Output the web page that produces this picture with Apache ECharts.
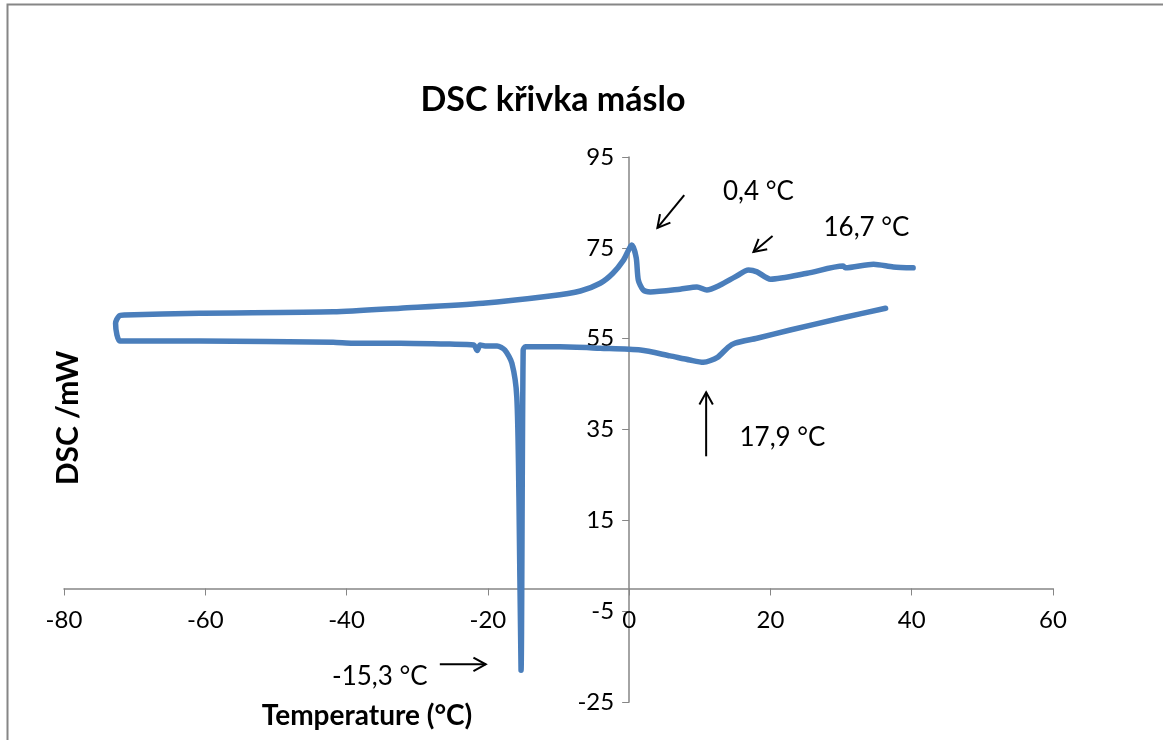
<!DOCTYPE html>
<html>
<head>
<meta charset="utf-8">
<script src="https://cdn.jsdelivr.net/npm/echarts@6/dist/echarts.min.js"></script>
<style>
html,body{margin:0;padding:0;background:#fff;}
#chart{width:1163px;height:740px;}
</style>
</head>
<body>
<div id="chart"></div>
<script>
// Temperature (°C) and DSC (mW) along the measured loop:
// cooling run (right to left), hold at -72 °C, heating run (left to right)
var coolT = [36.3, 29.9, 22.8, 18.1, 15.0, 14.0, 12.5, 10.5, 8.6, 5.8, 1.6, -4.1, -9.8, -14.7, -15.0, -15.3, -15.6, -15.9, -16.6, -17.6, -18.7, -20.4, -21.1, -21.5, -22.0, -25.4, -32.4, -39.1, -41.9, -60.8, -72.1];
var coolDSC = [61.7, 59.5, 56.9, 55.1, 54.0, 53.1, 50.9, 49.8, 50.3, 51.2, 52.5, 52.9, 53.2, 53.2, 52.5, -18.0, 20.1, 42.1, 49.6, 52.5, 53.4, 53.4, 53.6, 52.4, 53.6, 53.8, 54.0, 54.0, 54.2, 54.5, 54.5];
var holdT = [-72.5, -72.7, -72.2, -71.4];
var holdDSC = [55.8, 58.4, 60.0, 60.2];
var heatT = [-60.8, -41.9, -32.4, -20.7, -11.2, -6.9, -4.1, -2.3, -0.8, 0.4, 1.0, 1.3, 2.0, 3.0, 7.2, 9.6, 11.0, 12.9, 15.0, 16.9, 18.1, 20.0, 25.2, 30.3, 30.6, 34.6, 37.4, 40.2];
var heatDSC = [60.6, 60.9, 61.7, 62.8, 64.4, 65.5, 67.2, 69.4, 72.3, 75.6, 72.8, 67.9, 65.7, 65.3, 65.9, 66.4, 65.7, 66.8, 68.6, 70.1, 69.7, 68.1, 69.4, 71.0, 70.6, 71.4, 70.8, 70.6];

var xTicks = {min: -80, max: 60, step: 20};
var yTicks = {min: -25, max: 95, step: 20};

// annotation texts and their anchors in data coordinates
var noteTexts = ['0,4 °C', '16,7 °C', '17,9 °C', '-15,3 °C'];
var notePos = [[18.3, 87.3], [33.6, 79.4], [21.7, 33.3], [-35.3, -19.5]];
// arrows: [tailT, tailDSC, headT, headDSC]
var arrows = [[7.8, 86.6, 4.0, 79.4], [20.3, 77.6, 17.6, 74.1], [10.9, 29.1, 10.9, 43.2], [-26.8, -16.7, -20.3, -16.7]];

var loop = [];
coolT.forEach(function (t, i) { loop.push([t, coolDSC[i]]); });
holdT.forEach(function (t, i) { loop.push([t, holdDSC[i]]); });
heatT.forEach(function (t, i) { loop.push([t, heatDSC[i]]); });

var W = 1163, H = 740;
var G = {left: 64, right: 110, top: 157, bottom: 38};
var gw = W - G.left - G.right, gh = H - G.top - G.bottom;
// axes cross at zero of the other axis (as in the original)
var xOffset = -(0 - yTicks.min) / (yTicks.max - yTicks.min) * gh;
var yOffset = -(0 - xTicks.min) / (xTicks.max - xTicks.min) * gw;

var FONT = 'Lato, "Liberation Sans", sans-serif';
var chart = echarts.init(document.getElementById('chart'));
chart.setOption({
  animation: false,
  backgroundColor: '#fff',
  title: {
    text: 'DSC křivka máslo', left: 548, top: 78, textAlign: 'center',
    textStyle: {fontFamily: FONT, fontWeight: 'bold', fontSize: 34, color: '#000'}
  },
  grid: {left: G.left, right: G.right, top: G.top, bottom: G.bottom, containLabel: false},
  xAxis: {
    type: 'value', min: xTicks.min, max: xTicks.max, interval: xTicks.step,
    position: 'bottom', offset: xOffset,
    axisLine: {onZero: false, lineStyle: {color: '#868686', width: 1.5}},
    axisTick: {show: true, inside: false, length: 7, lineStyle: {color: '#868686'}},
    axisLabel: {margin: 20, color: '#000', fontFamily: FONT, fontSize: 24},
    splitLine: {show: false}
  },
  yAxis: {
    type: 'value', min: yTicks.min, max: yTicks.max, interval: yTicks.step,
    position: 'left', offset: yOffset,
    axisLine: {show: true, onZero: false, lineStyle: {color: '#868686', width: 1.5}},
    axisTick: {show: true, inside: false, length: 7, lineStyle: {color: '#868686'}},
    axisLabel: {margin: 15, color: '#000', fontFamily: FONT, fontSize: 24},
    splitLine: {show: false}
  },
  series: [{
    type: 'line', data: loop, showSymbol: false, smooth: 0.25,
    lineStyle: {color: '#4A7EBB', width: 5.5, cap: 'round', join: 'round'}
  }]
});

function toPx(p) { return chart.convertToPixel({gridIndex: 0}, p); }
var g = [];
g.push({type: 'rect', shape: {x: 7.5, y: 4.5, width: 1300, height: 900}, style: {fill: 'none', stroke: '#868686', lineWidth: 2}, z: 0});
g.push({type: 'text', x: 367, y: 716, style: {text: 'Temperature (°C)', font: 'bold 28px ' + FONT, fill: '#000', align: 'center', verticalAlign: 'middle'}});
g.push({type: 'text', x: 68, y: 418, rotation: Math.PI / 2, style: {text: 'DSC /mW', font: 'bold 30px ' + FONT, fill: '#000', align: 'center', verticalAlign: 'middle'}});
noteTexts.forEach(function (t, i) {
  var p = toPx(notePos[i]);
  g.push({type: 'text', x: p[0], y: p[1], style: {text: t, font: '26px ' + FONT, fill: '#000', align: 'center', verticalAlign: 'middle'}});
});
arrows.forEach(function (a) {
  var t = toPx([a[0], a[1]]), h = toPx([a[2], a[3]]);
  var ang = Math.atan2(h[1] - t[1], h[0] - t[0]);
  var L = 14, w = 0.5;
  var p1 = [h[0] - L * Math.cos(ang - w), h[1] - L * Math.sin(ang - w)];
  var p2 = [h[0] - L * Math.cos(ang + w), h[1] - L * Math.sin(ang + w)];
  g.push({type: 'line', shape: {x1: t[0], y1: t[1], x2: h[0], y2: h[1]}, style: {stroke: '#000', lineWidth: 2}});
  g.push({type: 'polyline', shape: {points: [p1, h, p2]}, style: {stroke: '#000', lineWidth: 2, fill: 'none'}});
});
chart.setOption({graphic: g});
</script>
</body>
</html>
